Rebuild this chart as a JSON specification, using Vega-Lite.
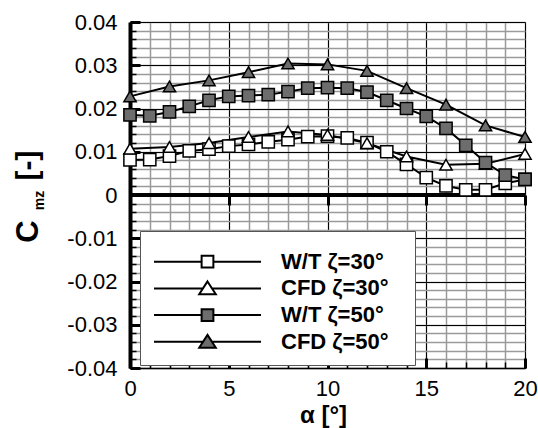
{
  "$schema": "https://vega.github.io/schema/vega-lite/v6.json",
  "width": 395,
  "height": 346,
  "autosize": "none",
  "padding": {"left": 130, "top": 22, "right": 13, "bottom": 60},
  "background": "white",
  "config": {
    "view": {"stroke": "black", "strokeWidth": 1},
    "font": "Liberation Sans",
    "axis": {"labelFont": "Liberation Sans", "titleFont": "Liberation Sans", "labelColor": "black", "titleColor": "black"},
    "legend": {
      "orient": "none", "legendX": 10, "legendY": 209,
      "fillColor": "white", "strokeColor": "#555555", "padding": 10,
      "labelFont": "Liberation Sans", "labelFontSize": 22, "labelFontWeight": "bold", "labelColor": "black",
      "labelOffset": 19, "symbolSize": 11449, "symbolOffset": 3, "symbolStrokeColor": "black", "symbolStrokeWidth": 2,
      "symbolOpacity": 1, "clipHeight": 26, "rowPadding": 0.7,
      "titleFontSize": 1, "titlePadding": 6.7, "titleColor": "white"
    }
  },
  "data": {"values": [
    {"alpha": 0, "cmz": 0.0081, "series": "W/T ζ=30°"},
    {"alpha": 1, "cmz": 0.0082, "series": "W/T ζ=30°"},
    {"alpha": 2, "cmz": 0.0090, "series": "W/T ζ=30°"},
    {"alpha": 3, "cmz": 0.0102, "series": "W/T ζ=30°"},
    {"alpha": 4, "cmz": 0.0106, "series": "W/T ζ=30°"},
    {"alpha": 5, "cmz": 0.0113, "series": "W/T ζ=30°"},
    {"alpha": 6, "cmz": 0.0117, "series": "W/T ζ=30°"},
    {"alpha": 7, "cmz": 0.0123, "series": "W/T ζ=30°"},
    {"alpha": 8, "cmz": 0.0128, "series": "W/T ζ=30°"},
    {"alpha": 9, "cmz": 0.0135, "series": "W/T ζ=30°"},
    {"alpha": 10, "cmz": 0.0136, "series": "W/T ζ=30°"},
    {"alpha": 11, "cmz": 0.0132, "series": "W/T ζ=30°"},
    {"alpha": 12, "cmz": 0.0121, "series": "W/T ζ=30°"},
    {"alpha": 13, "cmz": 0.0100, "series": "W/T ζ=30°"},
    {"alpha": 14, "cmz": 0.0071, "series": "W/T ζ=30°"},
    {"alpha": 15, "cmz": 0.0040, "series": "W/T ζ=30°"},
    {"alpha": 16, "cmz": 0.0021, "series": "W/T ζ=30°"},
    {"alpha": 17, "cmz": 0.0012, "series": "W/T ζ=30°"},
    {"alpha": 18, "cmz": 0.0012, "series": "W/T ζ=30°"},
    {"alpha": 19, "cmz": 0.0027, "series": "W/T ζ=30°"},
    {"alpha": 20, "cmz": 0.0036, "series": "W/T ζ=30°"},
    {"alpha": 0, "cmz": 0.0107, "series": "CFD ζ=30°"},
    {"alpha": 2, "cmz": 0.0111, "series": "CFD ζ=30°"},
    {"alpha": 4, "cmz": 0.0120, "series": "CFD ζ=30°"},
    {"alpha": 6, "cmz": 0.0134, "series": "CFD ζ=30°"},
    {"alpha": 8, "cmz": 0.0147, "series": "CFD ζ=30°"},
    {"alpha": 10, "cmz": 0.0139, "series": "CFD ζ=30°"},
    {"alpha": 12, "cmz": 0.0120, "series": "CFD ζ=30°"},
    {"alpha": 14, "cmz": 0.0089, "series": "CFD ζ=30°"},
    {"alpha": 16, "cmz": 0.0070, "series": "CFD ζ=30°"},
    {"alpha": 18, "cmz": 0.0072, "series": "CFD ζ=30°"},
    {"alpha": 20, "cmz": 0.0095, "series": "CFD ζ=30°"},
    {"alpha": 0, "cmz": 0.0185, "series": "W/T ζ=50°"},
    {"alpha": 1, "cmz": 0.0183, "series": "W/T ζ=50°"},
    {"alpha": 2, "cmz": 0.0192, "series": "W/T ζ=50°"},
    {"alpha": 3, "cmz": 0.0205, "series": "W/T ζ=50°"},
    {"alpha": 4, "cmz": 0.0219, "series": "W/T ζ=50°"},
    {"alpha": 5, "cmz": 0.0228, "series": "W/T ζ=50°"},
    {"alpha": 6, "cmz": 0.0230, "series": "W/T ζ=50°"},
    {"alpha": 7, "cmz": 0.0232, "series": "W/T ζ=50°"},
    {"alpha": 8, "cmz": 0.0239, "series": "W/T ζ=50°"},
    {"alpha": 9, "cmz": 0.0247, "series": "W/T ζ=50°"},
    {"alpha": 10, "cmz": 0.0248, "series": "W/T ζ=50°"},
    {"alpha": 11, "cmz": 0.0247, "series": "W/T ζ=50°"},
    {"alpha": 12, "cmz": 0.0238, "series": "W/T ζ=50°"},
    {"alpha": 13, "cmz": 0.0219, "series": "W/T ζ=50°"},
    {"alpha": 14, "cmz": 0.0200, "series": "W/T ζ=50°"},
    {"alpha": 15, "cmz": 0.0182, "series": "W/T ζ=50°"},
    {"alpha": 16, "cmz": 0.0154, "series": "W/T ζ=50°"},
    {"alpha": 17, "cmz": 0.0115, "series": "W/T ζ=50°"},
    {"alpha": 18, "cmz": 0.0075, "series": "W/T ζ=50°"},
    {"alpha": 19, "cmz": 0.0046, "series": "W/T ζ=50°"},
    {"alpha": 20, "cmz": 0.0036, "series": "W/T ζ=50°"},
    {"alpha": 0, "cmz": 0.0228, "series": "CFD ζ=50°"},
    {"alpha": 2, "cmz": 0.0251, "series": "CFD ζ=50°"},
    {"alpha": 4, "cmz": 0.0265, "series": "CFD ζ=50°"},
    {"alpha": 6, "cmz": 0.0284, "series": "CFD ζ=50°"},
    {"alpha": 8, "cmz": 0.0304, "series": "CFD ζ=50°"},
    {"alpha": 10, "cmz": 0.0302, "series": "CFD ζ=50°"},
    {"alpha": 12, "cmz": 0.0287, "series": "CFD ζ=50°"},
    {"alpha": 14, "cmz": 0.0247, "series": "CFD ζ=50°"},
    {"alpha": 16, "cmz": 0.0209, "series": "CFD ζ=50°"},
    {"alpha": 18, "cmz": 0.0161, "series": "CFD ζ=50°"},
    {"alpha": 20, "cmz": 0.0134, "series": "CFD ζ=50°"}
  ]},
  "resolve": {
    "scale": {"shape": "independent", "fill": "independent"},
    "axis": {"x": "independent", "y": "independent"}
  },
  "layer": [
    {
      "mark": {"type": "line", "color": "black", "strokeWidth": 2},
      "encoding": {
        "x": {"field": "alpha", "type": "quantitative",
          "scale": {"domain": [0, 20], "nice": false, "zero": false},
          "axis": {"orient": "bottom", "values": [0,1,2,3,4,5,6,7,8,9,10,11,12,13,14,15,16,17,18,19,20],
            "grid": true, "gridColor": "#9a9a9a", "gridWidth": 1.5, "labels": false, "domain": false,
            "ticks": true, "tickSize": -6, "tickColor": "black", "tickWidth": 1.5, "title": null}},
        "y": {"field": "cmz", "type": "quantitative",
          "scale": {"domain": [-0.04, 0.04], "nice": false, "zero": false},
          "axis": {"orient": "left", "values": [-0.04,-0.038,-0.036,-0.034,-0.032,-0.03,-0.028,-0.026,-0.024,-0.022,-0.02,-0.018,-0.016,-0.014,-0.012,-0.01,-0.008,-0.006,-0.004,-0.002,0,0.002,0.004,0.006,0.008,0.01,0.012,0.014,0.016,0.018,0.02,0.022,0.024,0.026,0.028,0.03,0.032,0.034,0.036,0.038,0.04],
            "grid": true, "gridColor": "#9a9a9a", "gridWidth": 1.5, "labels": false, "domain": false,
            "ticks": true, "tickSize": -6, "tickColor": "black", "tickWidth": 1.5, "title": null}},
        "detail": {"field": "series"}
      }
    },
    {
      "mark": {"type": "rule", "color": "black", "strokeWidth": 3.5},
      "encoding": {"y": {"datum": 0, "axis": null}}
    },
    {
      "mark": {"type": "point", "filled": true, "stroke": "black", "strokeWidth": 1.5, "opacity": 1, "size": 150},
      "encoding": {
        "x": {"field": "alpha", "type": "quantitative",
          "axis": {"orient": "bottom", "values": [0,5,10,15,20], "grid": true, "gridColor": "black", "gridWidth": 1,
            "domain": true, "domainColor": "black", "domainWidth": 1.5,
            "ticks": true, "tickSize": -10, "tickColor": "black", "tickWidth": 3,
            "labelFontSize": 22, "labelPadding": 20, "labelFlush": false, "labelOverlap": false,
            "title": "α [°]", "titleFontSize": 24, "titleFontWeight": "bold",
            "titleX": 193, "titleY": 54, "titleBaseline": "alphabetic", "titleAlign": "center"}},
        "y": {"field": "cmz", "type": "quantitative",
          "axis": {"orient": "left", "values": [-0.04,-0.03,-0.02,-0.01,0,0.01,0.02,0.03,0.04], "grid": true, "gridColor": "black", "gridWidth": 1,
            "domain": true, "domainColor": "black", "domainWidth": 4,
            "ticks": true, "tickSize": -10, "tickColor": "black", "tickWidth": 3,
            "labelFontSize": 22, "labelPadding": 23, "labelFlush": false, "labelOverlap": false,
            "labelExpr": "datum.value == 0 ? '0' : (datum.value < 0 ? '-' + format(-datum.value, '.2f') : format(datum.value, '.2f'))",
            "title": "C", "titleFontSize": 31, "titleFontWeight": "bold", "titleAngle": 270,
            "titleX": -93, "titleY": 209, "titleBaseline": "alphabetic", "titleAlign": "center"}},
        "shape": {"field": "series", "type": "nominal", "legend": null,
          "scale": {"domain": ["W/T ζ=30°", "CFD ζ=30°", "W/T ζ=50°", "CFD ζ=50°"], "range": ["square", "triangle-up", "square", "triangle-up"]}},
        "fill": {"field": "series", "type": "nominal", "legend": null,
          "scale": {"domain": ["W/T ζ=30°", "CFD ζ=30°", "W/T ζ=50°", "CFD ζ=50°"], "range": ["white", "white", "#6d6d6d", "#6d6d6d"]}}
      }
    },
    {
      "mark": {"type": "point", "filled": true, "stroke": "black", "strokeWidth": 2, "opacity": 0, "size": 11449},
      "encoding": {
        "x": {"field": "alpha", "type": "quantitative",
          "axis": {"orient": "top", "offset": -183, "values": [5,10,15,20], "grid": false, "domain": false,
            "ticks": true, "tickSize": 10, "tickWidth": 3, "tickColor": "black", "labels": false, "title": null}},
        "y": {"field": "cmz", "type": "quantitative",
          "axis": {"orient": "left", "values": [0], "grid": false, "domain": false, "ticks": false, "labels": false,
            "title": "mz", "titleFontSize": 14, "titleFontWeight": "bold", "titleAngle": 270,
            "titleX": -87, "titleY": 178, "titleBaseline": "alphabetic", "titleAlign": "center"}},
        "shape": {"field": "series", "type": "nominal",
          "scale": {"domain": ["W/T ζ=30°", "CFD ζ=30°", "W/T ζ=50°", "CFD ζ=50°"],
            "range": ["M-1,0H-0.11M0.11,0H1M-0.11,-0.11H0.11V0.11H-0.11Z", "M-1,0H-0.084M0.084,0H1M0,-0.13L0.155,0.11H-0.155Z", "M-1,0H-0.11M0.11,0H1M-0.11,-0.11H0.11V0.11H-0.11Z", "M-1,0H-0.084M0.084,0H1M0,-0.13L0.155,0.11H-0.155Z"]},
          "legend": {"title": " ", "orient": "none", "legendX": 10, "legendY": 209, "symbolOpacity": 1, "symbolSize": 11449,
            "labelExpr": "datum.label + '\u2800'",
            "encode": {"symbols": {"update": {"stroke": {"value": "black"}, "strokeWidth": {"value": 2}, "opacity": {"value": 1}, "strokeOpacity": {"value": 1}}}}}},
        "fill": {"field": "series", "type": "nominal",
          "scale": {"domain": ["W/T ζ=30°", "CFD ζ=30°", "W/T ζ=50°", "CFD ζ=50°"], "range": ["white", "white", "#6d6d6d", "#6d6d6d"]},
          "legend": {"title": " ", "orient": "none", "legendX": 10, "legendY": 209, "symbolOpacity": 1, "symbolSize": 11449,
            "labelExpr": "datum.label + '\u2800'",
            "encode": {"symbols": {"update": {"stroke": {"value": "black"}, "strokeWidth": {"value": 2}, "opacity": {"value": 1}, "strokeOpacity": {"value": 1}}}}}}
      }
    },
    {
      "mark": {"type": "point", "opacity": 0},
      "encoding": {
        "x": {"field": "alpha", "type": "quantitative", "axis": null},
        "y": {"field": "cmz", "type": "quantitative",
          "axis": {"orient": "left", "values": [0], "grid": false, "domain": false, "ticks": false, "labels": false,
            "title": "[-]", "titleFontSize": 30, "titleFontWeight": "bold", "titleAngle": 270,
            "titleX": -94, "titleY": 143, "titleBaseline": "alphabetic", "titleAlign": "center"}}
      }
    }
  ]
}
